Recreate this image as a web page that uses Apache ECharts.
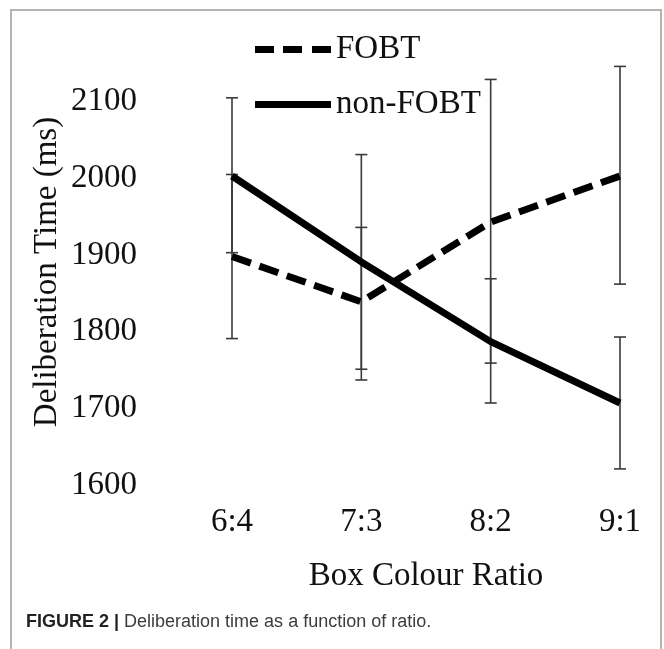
<!DOCTYPE html>
<html><head><meta charset="utf-8">
<script src="https://cdn.jsdelivr.net/npm/echarts@6/dist/echarts.min.js"></script>
<style>
html,body{margin:0;padding:0;background:#fff;}
#c{position:absolute;left:0;top:0;width:664px;height:649px;}
#frame{position:absolute;left:10px;top:9px;width:652px;height:660px;border:2px solid #b4b4b4;border-bottom:none;pointer-events:none;box-sizing:border-box;}
</style></head><body>
<div id="c"></div><div id="frame"></div>
<script>
const categories = ['6:4', '7:3', '8:2', '9:1'];
const fobtMean = [1898, 1839, 1943, 2003];
const fobtLow  = [1791, 1737, 1759, 1862];
const fobtHigh = [2005, 1936, 2129, 2146];
const nonMean  = [2003, 1891, 1787, 1707];
const nonLow   = [1903, 1751, 1707, 1621];
const nonHigh  = [2105, 2031, 1869, 1793];
const yTickLabels = [1600, 1700, 1800, 1900, 2000, 2100];

const serif = "'Liberation Serif', 'DejaVu Serif', serif";
const sans = "'Liberation Sans', Arial, sans-serif";

function renderErr(params, api) {
  const x = api.value(0);
  const lo = api.coord([x, api.value(1)]);
  const hi = api.coord([x, api.value(2)]);
  const hw = 6;
  const style = { stroke: '#3a3a3a', lineWidth: 1.6 };
  return {
    type: 'group',
    children: [
      { type: 'line', shape: { x1: lo[0], y1: lo[1], x2: hi[0], y2: hi[1] }, style: style },
      { type: 'line', shape: { x1: lo[0] - hw, y1: lo[1], x2: lo[0] + hw, y2: lo[1] }, style: style },
      { type: 'line', shape: { x1: hi[0] - hw, y1: hi[1], x2: hi[0] + hw, y2: hi[1] }, style: style }
    ]
  };
}

const chart = echarts.init(document.getElementById('c'), null, { renderer: 'canvas' });
chart.setOption({
  animation: false,
  backgroundColor: '#fff',
  title: {
    text: '{b|FIGURE 2 |} {n|Deliberation time as a function of ratio.}',
    left: 21,
    top: 608,
    textStyle: {
      fontWeight: 'normal',
      rich: {
        b: { fontFamily: sans, fontSize: 18, fontWeight: 'bold', color: '#222' },
        n: { fontFamily: sans, fontSize: 18, fontWeight: 'normal', color: '#3c3c3c' }
      }
    }
  },
  legend: {
    data: [
      { name: 'FOBT', icon: 'path://M0,0H19V7H0Z M28,0H47V7H28Z M57,0H76V7H57Z' },
      { name: 'non-FOBT', icon: 'path://M0,0H76V7H0Z' }
    ],
    orient: 'vertical',
    left: 250,
    top: 28,
    itemWidth: 76,
    itemHeight: 7,
    itemGap: 22,
    textStyle: { fontFamily: serif, fontSize: 33, color: '#111' }
  },
  grid: { left: 232, right: 44, top: 25, bottom: 164, containLabel: false },
  xAxis: {
    type: 'category',
    data: categories,
    boundaryGap: false,
    axisLine: { show: false },
    axisTick: { show: false },
    splitLine: { show: false },
    axisLabel: { fontFamily: serif, fontSize: 33, color: '#111', margin: 21 },
    name: 'Box Colour Ratio',
    nameLocation: 'middle',
    nameGap: 75,
    nameTextStyle: { fontFamily: serif, fontSize: 33, color: '#111' }
  },
  yAxis: {
    type: 'value',
    min: 1600,
    max: 2200,
    interval: 100,
    axisLine: { show: false },
    axisTick: { show: false },
    splitLine: { show: false },
    axisLabel: {
      fontFamily: serif, fontSize: 33, color: '#111', margin: 95,
      formatter: function (v) { return yTickLabels.indexOf(v) >= 0 ? String(v) : ''; }
    },
    name: 'Deliberation Time (ms)',
    nameLocation: 'middle',
    nameGap: 168,
    nameMoveOverlap: false,
    nameTextStyle: { fontFamily: serif, fontSize: 33, color: '#111', padding: [0, 34, 0, 0] }
  },
  series: [
    {
      type: 'custom',
      name: 'errFOBT',
      renderItem: renderErr,
      encode: { x: 0, y: [1, 2] },
      data: categories.map(function (c, i) { return [i, fobtLow[i], fobtHigh[i]]; }),
      z: 1
    },
    {
      type: 'custom',
      name: 'errNon',
      renderItem: renderErr,
      encode: { x: 0, y: [1, 2] },
      data: categories.map(function (c, i) { return [i, nonLow[i], nonHigh[i]]; }),
      z: 1
    },
    {
      type: 'line',
      name: 'FOBT',
      data: fobtMean,
      symbol: 'none',
      lineStyle: { color: '#000', width: 7, type: [20, 9] },
      itemStyle: { color: '#000' },
      z: 3
    },
    {
      type: 'line',
      name: 'non-FOBT',
      data: nonMean,
      symbol: 'none',
      lineStyle: { color: '#000', width: 7, type: 'solid' },
      itemStyle: { color: '#000' },
      z: 3
    }
  ]
});
</script>
</body></html>
